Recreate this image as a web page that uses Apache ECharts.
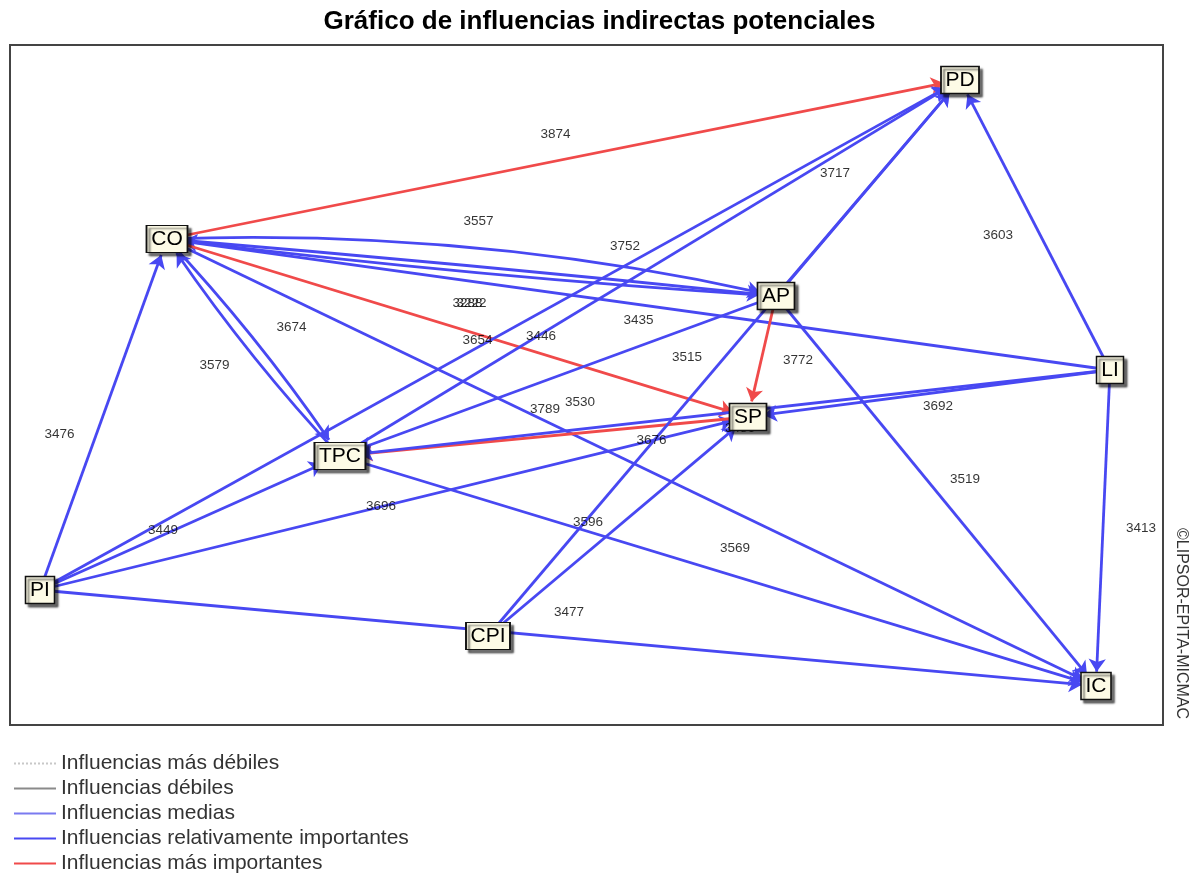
<!DOCTYPE html>
<html>
<head>
    <meta charset="utf-8">
    <title>Gráfico de influencias indirectas potenciales</title>
    <script src="https://cdn.jsdelivr.net/npm/echarts@6/dist/echarts.min.js"></script>
</head>
<body style="margin:0;background:#fff">
    <div id="main" style="width:1199px;height:879px;"></div>
    <script type="text/javascript">
        // variables (posiciones en el plano del gráfico)
        var nodeNames = ['CO', 'TPC', 'PD', 'AP', 'LI', 'SP', 'PI', 'CPI', 'IC'];
        var nodeX = [157, 330, 950, 766, 1100, 738, 30, 478, 1086];
        var nodeY = [194, 411, 35, 251, 325, 372, 545, 591, 641];

        // influencias indirectas potenciales
        var edgeFrom  = ['CO', 'CO', 'AP', 'CO', 'LI', 'CO', 'TPC', 'CO', 'CO', 'PI', 'PI', 'PI', 'PI', 'PI',
                         'TPC', 'TPC', 'SP', 'AP', 'LI', 'AP', 'CPI', 'AP', 'AP', 'LI', 'LI', 'LI', 'CPI'];
        var edgeTo    = ['PD', 'AP', 'CO', 'AP', 'CO', 'TPC', 'CO', 'SP', 'IC', 'CO', 'TPC', 'SP', 'IC', 'PD',
                         'PD', 'IC', 'TPC', 'TPC', 'TPC', 'PD', 'PD', 'SP', 'IC', 'PD', 'SP', 'IC', 'SP'];
        var edgeValue = [3874, 3557, 3288, 3222, 3435, 3674, 3579, 3654, 3676, 3476, 3449, 3696, 3477, 3446,
                         3752, 3569, 3789, 3530, 3486, 3717, 3515, 3772, 3519, 3603, 3692, 3413, 3596];
        // 4 = más importantes (rojo), 3 = relativamente importantes (azul)
        var edgeLevel = [4, 3, 3, 3, 3, 3, 3, 4, 3, 3, 3, 3, 3, 3,
                         3, 3, 4, 3, 3, 3, 3, 4, 3, 3, 3, 3, 3];

        var legendNames = ['Influencias más débiles', 'Influencias débiles', 'Influencias medias',
                           'Influencias relativamente importantes', 'Influencias más importantes'];

        // estilo
        var BLUE = '#4848f2', RED = '#f04a4a';
        var curve = {'CO>AP': 0.065, 'AP>CO': 0.015, 'CO>TPC': 0.04, 'TPC>CO': 0.04};
        var labelShift = [[-8, -25], [7, -46], [-4, 36], [0, 36], [0, 16], [38, -20], [-39, 18], [20, 12], [20, -22],
                          [-44, 20], [-27, 7], [-13, 3], [1, -26], [41, 1], [-25, -22], [17, -23], [1, -27],
                          [22, 26], [15, 15], [-33, -15], [-37, -1], [36, 4], [29, -12], [-37, 10], [9, 13],
                          [38, 0], [-30, -4]];

        var ctx = document.createElement('canvas').getContext('2d');
        ctx.font = '21px "Liberation Sans"';
        function boxSize(name) {
            return [Math.round(ctx.measureText(name).width + 9), 27];
        }

        var nodes = nodeNames.map(function (n, i) {
            return {name: n, value: [nodeX[i], nodeY[i]], symbolSize: boxSize(n)};
        });
        var links = edgeFrom.map(function (s, i) {
            var t = edgeTo[i];
            var c = curve[s + '>' + t] || 0;
            if (s === 'CO' && t === 'AP' && edgeValue[i] === 3222) c = 0.005;
            return {
                source: s, target: t,
                lineStyle: {color: edgeLevel[i] === 4 ? RED : BLUE, width: 2.8, curveness: c, opacity: 1}
            };
        });
        var labelPts = edgeFrom.map(function (s, i) {
            var a = nodeNames.indexOf(s), b = nodeNames.indexOf(edgeTo[i]);
            return {
                name: String(edgeValue[i]),
                value: [(nodeX[a] + nodeX[b]) / 2, (nodeY[a] + nodeY[b]) / 2],
                label: {offset: labelShift[i]}
            };
        });

        var myChart = echarts.init(document.getElementById('main'));
        var option = {
            backgroundColor: '#fff',
            animation: false,
            title: {
                text: 'Gráfico de influencias indirectas potenciales',
                left: 'center', top: 4,
                textStyle: {fontFamily: 'Liberation Sans', fontSize: 26, fontWeight: 'bold', color: '#000'}
            },
            legend: {
                orient: 'vertical', left: 8, top: 748,
                itemWidth: 42, itemHeight: 12, itemGap: 4,
                itemStyle: {opacity: 0},
                textStyle: {fontFamily: 'Liberation Sans', fontSize: 21, color: '#333'},
                data: legendNames
            },
            grid: {
                left: 10, top: 45, width: 1153, height: 680,
                show: true, borderColor: '#444', borderWidth: 2, backgroundColor: '#fff'
            },
            xAxis: {type: 'value', min: 0, max: 1153, show: false},
            yAxis: {type: 'value', min: 0, max: 680, inverse: true, show: false},
            graphic: [{
                type: 'text', x: 1189, y: 528, rotation: -Math.PI / 2,
                style: {text: '©LIPSOR-EPITA-MICMAC', fontFamily: 'Liberation Sans', fontSize: 16, fill: '#333'}
            }],
            series: [
                {
                    // aristas
                    type: 'graph', coordinateSystem: 'cartesian2d', z: 2, silent: true,
                    data: nodes.map(function (n) {
                        return {name: n.name, value: n.value, symbolSize: n.symbolSize, itemStyle: {opacity: 0}};
                    }),
                    links: links,
                    symbol: 'rect',
                    edgeSymbol: ['none', 'arrow'],
                    edgeSymbolSize: [0, 13],
                    label: {show: false}
                },
                {
                    // valores de las aristas
                    type: 'scatter', z: 3, silent: true,
                    symbolSize: 0,
                    data: labelPts,
                    label: {
                        show: true, position: 'inside', formatter: '{b}',
                        fontFamily: 'Liberation Sans', fontSize: 13.5, color: '#000'
                    }
                },
                {
                    // variables
                    type: 'graph', coordinateSystem: 'cartesian2d', z: 5, silent: true,
                    symbol: 'rect',
                    data: nodes,
                    links: [],
                    itemStyle: {
                        color: '#fdfbe6', borderColor: '#111', borderWidth: 1.5,
                        shadowColor: 'rgba(0,0,0,0.55)', shadowOffsetX: 3, shadowOffsetY: 3, shadowBlur: 2
                    },
                    label: {
                        show: true, position: 'inside', color: '#000',
                        fontFamily: 'Liberation Sans', fontSize: 21
                    }
                },
                {name: legendNames[0], type: 'line', data: [], symbol: 'none',
                 lineStyle: {color: '#c8c8c8', width: 1.5, type: 'dotted'}},
                {name: legendNames[1], type: 'line', data: [], symbol: 'none',
                 lineStyle: {color: '#8a8a8a', width: 1.5}},
                {name: legendNames[2], type: 'line', data: [], symbol: 'none',
                 lineStyle: {color: '#7a7af0', width: 1.5}},
                {name: legendNames[3], type: 'line', data: [], symbol: 'none',
                 lineStyle: {color: BLUE, width: 3}},
                {name: legendNames[4], type: 'line', data: [], symbol: 'none',
                 lineStyle: {color: RED, width: 3}}
            ]
        };
        myChart.setOption(option);
    </script>
</body>
</html>
